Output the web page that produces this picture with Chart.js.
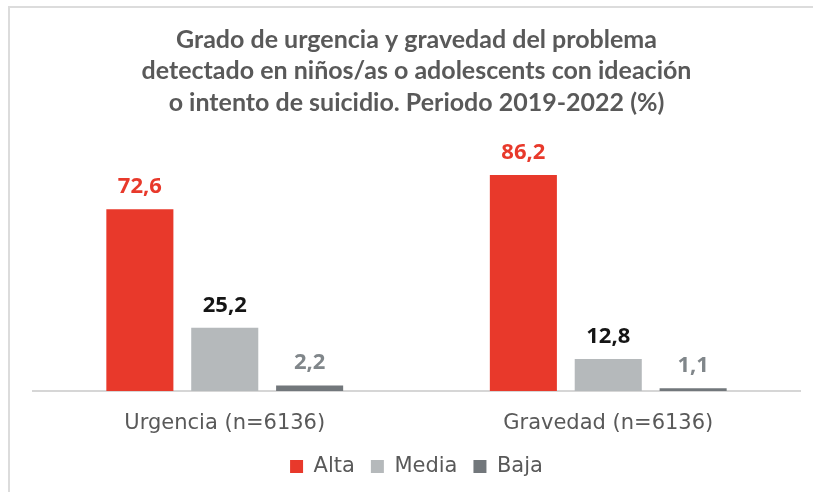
<!DOCTYPE html>
<html>
<head>
<meta charset="utf-8">
<script src="https://cdn.jsdelivr.net/npm/chart.js@4"></script>
<style>
  html, body { margin: 0; padding: 0; background: #fff; }
  #wrap { position: relative; width: 813px; height: 492px; }
  #frame { position: absolute; left: 8px; top: 6px; right: 0; bottom: 0;
           border-top: 2px solid #dcdcdc; border-left: 2px solid #dcdcdc; }
  canvas { position: absolute; left: 0; top: 0; }
</style>
</head>
<body>
<div id="wrap">
  <div id="frame"></div>
  <canvas id="chart" width="813" height="492"></canvas>
</div>
<script>
const categories = ['Urgencia (n=6136)', 'Gravedad (n=6136)'];
const seriesNames = ['Alta', 'Media', 'Baja'];
const alta = [72.6, 86.2];
const media = [25.2, 12.8];
const baja = [2.2, 1.1];
const titleLines = [
  'Grado de urgencia y gravedad del problema',
  'detectado en niños/as o adolescents con ideación',
  'o intento de suicidio. Periodo 2019-2022 (%)'
];

const barColors = ['#e8392b', '#b5b9bb', '#72777b'];
const labelColors = ['#e8392b', '#151515', '#80868a'];

const fmt = v => v.toFixed(1).replace('.', ',');

// value labels above each bar
const valueLabels = {
  id: 'valueLabels',
  afterDatasetsDraw(chart) {
    const ctx = chart.ctx;
    ctx.save();
    ctx.font = 'bold 22px "Open Sans", sans-serif';
    ctx.textAlign = 'center';
    ctx.textBaseline = 'alphabetic';
    chart.data.datasets.forEach((ds, i) => {
      chart.getDatasetMeta(i).data.forEach((bar, j) => {
        ctx.fillStyle = labelColors[i];
        ctx.fillText(fmt(ds.data[j]), bar.x, bar.y - 16);
      });
    });
    ctx.restore();
  }
};

new Chart(document.getElementById('chart'), {
  type: 'bar',
  data: {
    labels: categories,
    datasets: [alta, media, baja].map((d, i) => ({
      label: seriesNames[i],
      data: d,
      backgroundColor: barColors[i],
      categoryPercentage: 0.664,
      barPercentage: 0.79
    }))
  },
  options: {
    responsive: false,
    animation: false,
    layout: { padding: { left: 33, right: 13, top: 0, bottom: 5 } },
    plugins: {
      title: {
        display: true,
        text: titleLines,
        color: '#595959',
        font: { family: 'Lato, sans-serif', size: 25, weight: 'bold', lineHeight: 1.26 },
        padding: { top: 24, bottom: 22 }
      },
      legend: {
        position: 'bottom',
        labels: {
          color: '#595959',
          font: { family: '"DejaVu Sans", sans-serif', size: 21 },
          boxWidth: 13, boxHeight: 13, padding: 16
        }
      },
      tooltip: { enabled: false }
    },
    scales: {
      x: {
        grid: { display: false, drawTicks: false },
        border: { color: '#d6d6d6', width: 2 },
        ticks: { color: '#595959', font: { family: '"DejaVu Sans", sans-serif', size: 21 }, padding: 20 },
        afterFit(scale) { scale.height = 49; }
      },
      y: { display: false, min: 0, max: 100 }
    }
  },
  plugins: [valueLabels]
});
</script>
</body>
</html>
